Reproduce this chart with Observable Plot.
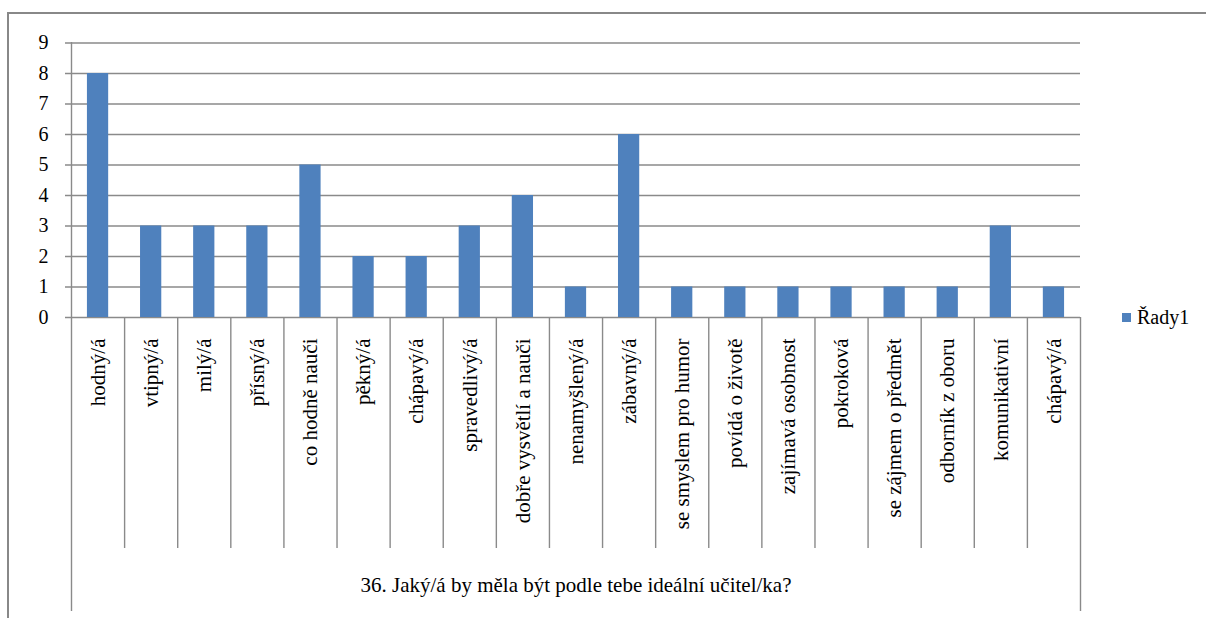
<!DOCTYPE html>
<html>
<head>
<meta charset="utf-8">
<script src="https://cdn.jsdelivr.net/npm/d3@7"></script>
<script src="https://cdn.jsdelivr.net/npm/@observablehq/plot@0.6"></script>
<style>
  html, body { margin: 0; padding: 0; background: #fff; }
  #wrap { position: relative; width: 1206px; height: 618px; overflow: hidden; font-family: "Liberation Serif", "Times New Roman", serif; }
  #border { position: absolute; left: 7px; top: 12px; width: 1400px; height: 800px; border: 2px solid #888; box-sizing: border-box; }
  #chart { position: absolute; left: 0; top: 0; }
  #legend { position: absolute; left: 1122px; top: 306px; display: flex; align-items: center; font-size: 20px; color: #000; }
  #legend .sw { width: 9px; height: 9px; background: #4F81BD; margin-right: 6px; }
</style>
</head>
<body>
<div id="wrap">
  <div id="border"></div>
  <div id="chart"></div>
  <div id="legend"><span class="sw"></span><span>Řady1</span></div>
</div>
<script>
// Answers to question 36 and how many times each was given
const categories = [
  "hodný/á", "vtipný/á", "milý/á", "přísný/á", "co hodně nauči", "pěkný/á",
  "chápavý/á", "spravedlivý/á", "dobře vysvětlí a nauči", "nenamyšlený/á",
  "zábavný/á", "se smyslem pro humor", "povídá o životě", "zajímavá osobnost",
  "pokroková", "se zájmem o předmět", "odborník z oboru", "komunikativní", "chápavý/á"
];
const counts = [8, 3, 3, 3, 5, 2, 2, 3, 4, 1, 6, 1, 1, 1, 1, 1, 1, 3, 1];
const yTicks = [0, 1, 2, 3, 4, 5, 6, 7, 8, 9];
const groupLabel = "36. Jaký/á by měla být podle tebe ideální učitel/ka?";

const rows = categories.map((name, i) => ({name, value: counts[i], i}));
const n = categories.length;

// Layout (pixels)
const W = 1206, H = 618;
const mLeft = 71, mRight = 126, mTop = 42, mBottom = 7;
const baseY = 317;          // where the value axis reaches 0
const sepBottom = 548;      // bottom of the category cell dividers
const barColor = "#4F81BD";
const lineColor = "#8a8a8a";
const serif = "Liberation Serif";

const chart = Plot.plot({
  width: W,
  height: H,
  marginLeft: mLeft,
  marginRight: mRight,
  marginTop: mTop,
  marginBottom: mBottom,
  style: {fontFamily: "'Liberation Serif'", color: "#000", background: "transparent"},
  x: {domain: [0, n], axis: null},
  y: {domain: [0, 9], range: [baseY, mTop + 0.5], axis: null},
  marks: [
    // horizontal gridlines with short outer ticks
    Plot.ruleY(yTicks, {stroke: lineColor, strokeWidth: 1.4, strokeOpacity: 1, insetLeft: -6}),
    // value axis line continuing down through the category box
    Plot.ruleX([0], {stroke: lineColor, strokeWidth: 1.4, strokeOpacity: 1}),
    // right edge of the category box
    Plot.ruleX([n], {stroke: lineColor, strokeWidth: 1.4, strokeOpacity: 1, insetTop: baseY - mTop}),
    // dividers between category cells
    Plot.ruleX(d3.range(1, n), {stroke: lineColor, strokeWidth: 1.4, strokeOpacity: 1,
      insetTop: baseY - mTop, insetBottom: H - mBottom - sepBottom}),
    // bars
    Plot.rectY(rows, {x1: d => d.i + 0.3, x2: d => d.i + 0.7, y: "value", fill: barColor}),
    // value axis labels
    Plot.axisY(yTicks, {tickSize: 0, tickPadding: 23, fontSize: 20, fontFamily: serif, label: null, fill: "#000"}),
    // rotated category labels
    Plot.text(rows, {x: d => d.i + 0.5, y: () => 0, text: "name", rotate: -90,
      textAnchor: "end", dy: 21, fontSize: 21, fontFamily: serif, fill: "#000"}),
    // group label under the categories
    Plot.text([groupLabel], {x: () => n / 2, y: () => 0, text: d => d, dy: 268,
      fontSize: 21, fontFamily: serif, fill: "#000"})
  ]
});

document.getElementById("chart").appendChild(chart);
</script>
</body>
</html>
